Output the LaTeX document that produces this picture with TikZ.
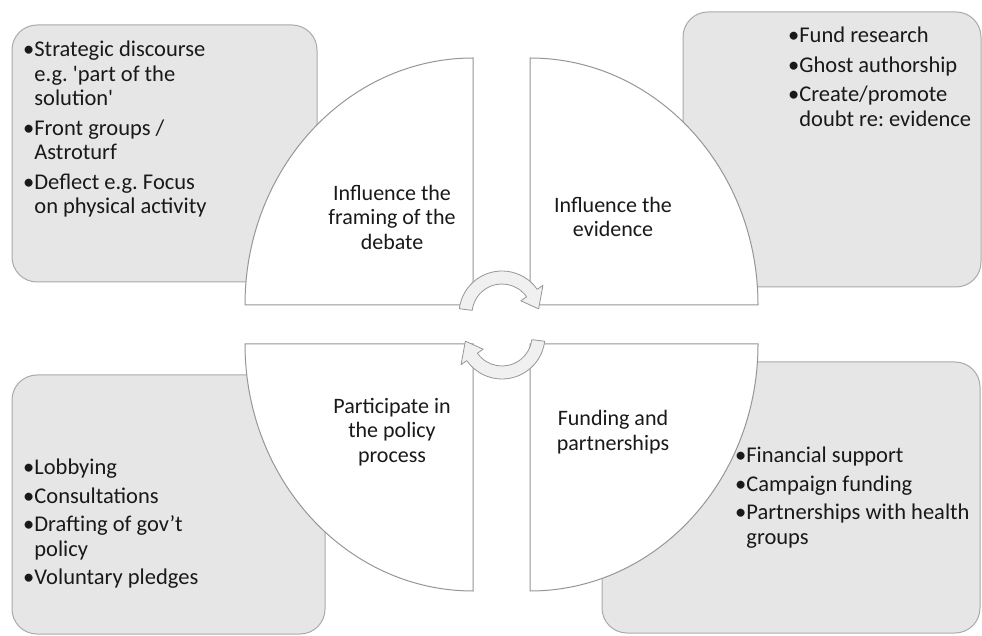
\documentclass[tikz,border=0pt]{standalone}
\usepackage{fontspec}
\newfontfamily\calib{Carlito}
\definecolor{panelfill}{RGB}{230,230,230}
\definecolor{paneledge}{RGB}{170,170,170}
\definecolor{quarteredge}{RGB}{150,150,150}
\definecolor{arrowfill}{RGB}{240,240,240}
\definecolor{inkblack}{RGB}{25,25,25}
\newcommand{\bulletgap}{\hphantom{\textbullet}}
\frenchspacing

\begin{document}
\begin{tikzpicture}[x=1pt, y=1pt,
    every node/.style={font=\calib\fontsize{22}{24.5}\selectfont, text=inkblack, inner sep=0pt},
    panel/.style={fill=panelfill, draw=paneledge, line width=1pt, rounded corners=25pt},
    quarter/.style={fill=white, draw=quarteredge, line width=1pt},
    cyclearrow/.style={fill=arrowfill, draw=quarteredge, line width=0.8pt, line join=round},
    bullets/.style={align=left, anchor=north west, font=\calib\fontsize{22.5}{24.5}\selectfont},
    quarterlabel/.style={align=center}]

  \useasboundingbox (0,0) rectangle (982,635);

  % ========== GREY PANELS ==========
  \draw[panel] (12,353) rectangle (317,610);
  \draw[panel] (683,348) rectangle (981,623);
  \draw[panel] (12,1) rectangle (325,260);
  \draw[panel] (602,2) rectangle (980,273);

  % ========== FOUR QUARTERS ==========
  \draw[quarter] (473,330) -- (245,330)
    arc[start angle=180, end angle=90, x radius=228pt, y radius=247pt] -- cycle;
  \draw[quarter] (530,330) -- (530,577)
    arc[start angle=90, end angle=0, x radius=228pt, y radius=247pt] -- cycle;
  \draw[quarter] (473,291) -- (245,291)
    arc[start angle=180, end angle=270, x radius=228pt, y radius=247pt] -- cycle;
  \draw[quarter] (530,291) -- (758,291)
    arc[start angle=0, end angle=-90, x radius=228pt, y radius=247pt] -- cycle;

  % ========== CYCLE ARROWS ==========
  \foreach \ang in {0,180}{
    \filldraw[cyclearrow, rotate around={\ang:(502,310)}]
      ([shift={(502,321)}]173:30pt) -- ([shift={(502,321)}]173:43pt)
      arc[start angle=173, end angle=35, radius=43pt]
      -- ([shift={(502,321)}]35:50pt)
      -- ([shift={(502,321)}]8:37pt)
      -- ([shift={(502,321)}]35:23pt)
      -- ([shift={(502,321)}]35:30pt)
      arc[start angle=35, end angle=173, radius=30pt] -- cycle;
  }

  % ========== QUARTER LABELS ==========
  \node[quarterlabel] (framing) at (392,418) {Influence the\\framing of the\\debate};
  \node[quarterlabel] (evidence) at (613,418) {Influence the\\evidence};
  \node[quarterlabel] (policy) at (392,203) {Participate in\\the policy\\process};
  \node[quarterlabel] (funding) at (613,203) {Funding and\\partnerships};

  % ========== BULLET LISTS ==========
  \node[bullets] (framinglist) at (23,594) {%
    \textbullet Strategic discourse\\
    \bulletgap e.g. 'part of the\\
    \bulletgap solution'\\[5pt]
    \textbullet Front groups /\\
    \bulletgap Astroturf\\[5pt]
    \textbullet Deflect e.g. Focus\\
    \bulletgap on physical activity};
  \node[bullets] (evidencelist) at (788,608) {%
    \textbullet Fund research\\[5pt]
    \textbullet Ghost authorship\\[5pt]
    \textbullet Create/promote\\
    \bulletgap doubt re: evidence};
  \node[bullets] (policylist) at (23,176) {%
    \textbullet Lobbying\\[4pt]
    \textbullet Consultations\\[4pt]
    \textbullet Drafting of gov’t\\
    \bulletgap policy\\[4pt]
    \textbullet Voluntary pledges};
  \node[bullets] (fundinglist) at (735,188) {%
    \textbullet Financial support\\[4pt]
    \textbullet Campaign funding\\[4pt]
    \textbullet Partnerships with health\\
    \bulletgap groups};

\end{tikzpicture}
\end{document}
